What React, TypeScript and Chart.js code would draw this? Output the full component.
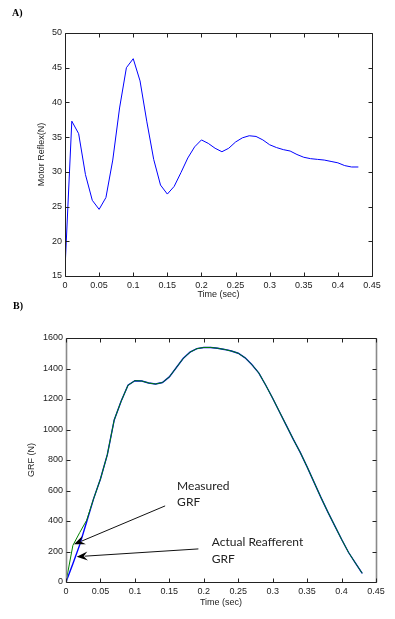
import React, { useEffect, useRef } from 'react';
import { Chart, registerables } from 'chart.js';

Chart.register(...registerables);

// ---------- Panel A data ----------
const timeA = [0, 0.01, 0.02, 0.03, 0.04, 0.05, 0.06, 0.07, 0.08, 0.09, 0.1, 0.11, 0.12, 0.13, 0.14, 0.15, 0.16, 0.17, 0.18, 0.19, 0.2, 0.21, 0.22, 0.23, 0.24, 0.25, 0.26, 0.27, 0.28, 0.29, 0.3, 0.31, 0.32, 0.33, 0.34, 0.35, 0.36, 0.37, 0.38, 0.39, 0.4, 0.41, 0.42, 0.43];
const motorReflex = [16.0, 37.3, 35.5, 29.6, 25.9, 24.6, 26.3, 31.7, 39.2, 45.0, 46.3, 43.1, 37.2, 31.8, 28.1, 26.8, 27.9, 29.9, 32.0, 33.6, 34.6, 34.1, 33.4, 32.9, 33.4, 34.3, 34.9, 35.2, 35.1, 34.6, 33.9, 33.5, 33.2, 33.0, 32.5, 32.1, 31.9, 31.8, 31.7, 31.5, 31.3, 30.9, 30.7, 30.7];
const yTicksA = [15, 20, 25, 30, 35, 40, 45, 50];

// ---------- Panel B data ----------
const timeB = [0, 0.01, 0.02, 0.03, 0.04, 0.05, 0.06, 0.07, 0.08, 0.09, 0.1, 0.11, 0.12, 0.13, 0.14, 0.15, 0.16, 0.17, 0.18, 0.19, 0.2, 0.21, 0.22, 0.23, 0.24, 0.25, 0.26, 0.27, 0.28, 0.29, 0.3, 0.31, 0.32, 0.33, 0.34, 0.35, 0.36, 0.37, 0.38, 0.39, 0.4, 0.41, 0.42, 0.43];
const reafferentGRF = [0, 120, 245, 395, 545, 675, 835, 1063, 1185, 1290, 1320, 1318, 1305, 1298, 1308, 1345, 1405, 1465, 1507, 1530, 1538, 1538, 1533, 1525, 1515, 1500, 1470, 1425, 1370, 1290, 1205, 1115, 1025, 935, 850, 755, 655, 555, 460, 370, 280, 195, 125, 57];
const measuredGRF = [0, 240, 325, 405, 545, 675, 835, 1063, 1185, 1290, 1320, 1318, 1305, 1298, 1308, 1345, 1405, 1465, 1507, 1530, 1538, 1538, 1533, 1525, 1515, 1500, 1470, 1425, 1370, 1290, 1205, 1115, 1025, 935, 850, 755, 655, 555, 460, 370, 280, 195, 125, 57];
const yTicksB = [0, 200, 400, 600, 800, 1000, 1200, 1400, 1600];

const xTicks = [0, 0.05, 0.1, 0.15, 0.2, 0.25, 0.3, 0.35, 0.4, 0.45];

// annotations in data units: label lines, text anchor (t, v), tail (t, v), tip (t, v)
const annotationLabels = [['Measured', 'GRF'], ['Actual Reafferent', 'GRF']];
const annotationText = [[0.1613, 604], [0.2117, 236]];
const annotationTail = [[0.1439, 499], [0.1922, 217]];
const annotationTip = [[0.0116, 247], [0.0155, 166]];

const TICK_FONT = { family: '"Liberation Sans", Arial, sans-serif', size: 9 };
const TEXT_COLOR = '#222';

type PanelOpts = {
  label: string;
  labelPos: [number, number];
  yTitle: string;
  yTitleX: number;
  xTitleY: number;
  annotations: boolean;
  sideColor: string;
  sideWidth: number;
};

function framePlugin(o: PanelOpts) {
  return {
    id: 'frame',
    afterDraw(chart: any) {
      const { ctx, chartArea: a, scales } = chart;
      const xs = scales.x;
      const ys = scales.y;
      ctx.save();
      ctx.lineWidth = 1;
      const L = Math.round(a.left) + 0.5;
      const R = Math.round(a.right) + 0.5;
      const T = Math.round(a.top) + 0.5;
      const B = Math.round(a.bottom) + 0.5;
      // top & bottom edges
      ctx.strokeStyle = '#222';
      ctx.beginPath();
      ctx.moveTo(L, T);
      ctx.lineTo(R, T);
      ctx.moveTo(L, B);
      ctx.lineTo(R, B);
      ctx.stroke();
      // side edges
      ctx.strokeStyle = o.sideColor;
      ctx.lineWidth = o.sideWidth;
      ctx.beginPath();
      ctx.moveTo(L, T);
      ctx.lineTo(L, B);
      ctx.moveTo(R, T);
      ctx.lineTo(R, B);
      ctx.stroke();
      // inward ticks
      ctx.strokeStyle = '#222';
      ctx.lineWidth = 1;
      ctx.beginPath();
      xs.ticks.forEach((t: any) => {
        const px = Math.round(xs.getPixelForValue(t.value)) + 0.5;
        ctx.moveTo(px, B);
        ctx.lineTo(px, B - 4);
        ctx.moveTo(px, T);
        ctx.lineTo(px, T + 4);
      });
      ys.ticks.forEach((t: any) => {
        const py = Math.round(ys.getPixelForValue(t.value)) + 0.5;
        ctx.moveTo(L, py);
        ctx.lineTo(L + 4, py);
        ctx.moveTo(R, py);
        ctx.lineTo(R - 4, py);
      });
      ctx.stroke();

      // axis titles
      ctx.fillStyle = TEXT_COLOR;
      ctx.font = `${TICK_FONT.size}px ${TICK_FONT.family}`;
      ctx.textAlign = 'center';
      ctx.textBaseline = 'middle';
      ctx.fillText('Time (sec)', (a.left + a.right) / 2, o.xTitleY);
      ctx.save();
      ctx.translate(o.yTitleX, (a.top + a.bottom) / 2);
      ctx.rotate(-Math.PI / 2);
      ctx.fillText(o.yTitle, 0, 0);
      ctx.restore();

      // panel label
      ctx.fillStyle = '#000';
      ctx.font = 'bold 10px "Liberation Serif", "Times New Roman", serif';
      ctx.textAlign = 'left';
      ctx.textBaseline = 'alphabetic';
      ctx.fillText(o.label, o.labelPos[0], o.labelPos[1]);

      if (o.annotations) {
        annotationLabels.forEach((lines, i) => {
          const tx = xs.getPixelForValue(annotationText[i][0]);
          const ty = ys.getPixelForValue(annotationText[i][1]);
          ctx.fillStyle = TEXT_COLOR;
          ctx.font = '12px Lato, "Open Sans", sans-serif';
          ctx.textAlign = 'left';
          ctx.textBaseline = 'alphabetic';
          lines.forEach((ln, j) => ctx.fillText(ln, tx, ty + j * 16.5));

          const x1 = xs.getPixelForValue(annotationTail[i][0]);
          const y1 = ys.getPixelForValue(annotationTail[i][1]);
          const x2 = xs.getPixelForValue(annotationTip[i][0]);
          const y2 = ys.getPixelForValue(annotationTip[i][1]);
          const ang = Math.atan2(y2 - y1, x2 - x1);
          const len = 11;
          const half = 4.5;
          const bx = x2 - len * Math.cos(ang);
          const by = y2 - len * Math.sin(ang);
          ctx.strokeStyle = '#111';
          ctx.lineWidth = 1;
          ctx.beginPath();
          ctx.moveTo(x1, y1);
          ctx.lineTo(bx + 3 * Math.cos(ang), by + 3 * Math.sin(ang));
          ctx.stroke();
          ctx.fillStyle = '#000';
          ctx.beginPath();
          ctx.moveTo(x2, y2);
          ctx.lineTo(bx - half * Math.sin(ang), by + half * Math.cos(ang));
          ctx.lineTo(x2 - (len - 4) * Math.cos(ang), y2 - (len - 4) * Math.sin(ang));
          ctx.lineTo(bx + half * Math.sin(ang), by - half * Math.cos(ang));
          ctx.closePath();
          ctx.fill();
        });
      }
      ctx.restore();
    },
  };
}

function makeOptions(yMin: number, yMax: number, yTickValues: number[], padding: any, yw: number, xh: number) {
  return {
    responsive: false,
    animation: false as const,
    maintainAspectRatio: false,
    layout: { padding },
    plugins: { legend: { display: false }, tooltip: { enabled: false } },
    elements: { point: { radius: 0 }, line: { tension: 0 } },
    scales: {
      x: {
        type: 'linear' as const,
        min: 0,
        max: 0.45,
        grid: { display: false, drawTicks: false },
        border: { display: false },
        afterBuildTicks: (s: any) => {
          s.ticks = xTicks.map((v) => ({ value: v }));
        },
        afterFit: (s: any) => {
          s.height = xh;
        },
        ticks: {
          padding: 4,
          color: TEXT_COLOR,
          font: TICK_FONT,
          maxRotation: 0,
          autoSkip: false,
          callback: (v: any) => String(Math.round(Number(v) * 100) / 100),
        },
      },
      y: {
        type: 'linear' as const,
        min: yMin,
        max: yMax,
        grid: { display: false, drawTicks: false },
        border: { display: false },
        afterBuildTicks: (s: any) => {
          s.ticks = yTickValues.map((v) => ({ value: v }));
        },
        afterFit: (s: any) => {
          s.width = yw;
        },
        ticks: {
          padding: 3,
          color: TEXT_COLOR,
          font: TICK_FONT,
          autoSkip: false,
          callback: (v: any) => String(v),
        },
      },
    },
  };
}

function Panel(props: {
  top: number;
  height: number;
  datasets: any[];
  yMin: number;
  yMax: number;
  yTickValues: number[];
  padding: any;
  yw: number;
  xh: number;
  frame: PanelOpts;
}) {
  const ref = useRef<HTMLCanvasElement>(null);
  useEffect(() => {
    if (!ref.current) return;
    const opts: any = makeOptions(props.yMin, props.yMax, props.yTickValues, props.padding, props.yw, props.xh);
    const chart = new Chart(ref.current, {
      type: 'line',
      data: { datasets: props.datasets },
      options: opts,
      plugins: [framePlugin(props.frame)],
    });
    return () => chart.destroy();
  }, []);
  return (
    <canvas
      ref={ref}
      width={395}
      height={props.height}
      style={{ position: 'absolute', left: 0, top: props.top, width: 395, height: props.height }}
    />
  );
}

export default function App() {
  const dsA = [
    {
      data: timeA.map((t, i) => ({ x: t, y: motorReflex[i] })),
      borderColor: '#0000ff',
      borderWidth: 1,
      pointRadius: 0,
      fill: false,
    },
  ];
  const dsB = [
    {
      data: timeB.map((t, i) => ({ x: t, y: measuredGRF[i] })),
      borderColor: '#008000',
      borderWidth: 1,
      pointRadius: 0,
      fill: false,
    },
    {
      data: timeB.map((t, i) => ({ x: t, y: reafferentGRF[i] })),
      borderColor: '#0000ff',
      borderWidth: 1.4,
      pointRadius: 0,
      fill: false,
    },
  ];
  return (
    <div style={{ position: 'absolute', left: 0, top: 0, width: 395, height: 619, background: '#fff' }}>
      <Panel
        top={0}
        height={300}
        datasets={dsA}
        yMin={15}
        yMax={50}
        yTickValues={yTicksA}
        padding={{ left: 0, top: 33, right: 23, bottom: 4 }}
        yw={65}
        xh={20}
        frame={{ label: 'A)', labelPos: [12, 16], yTitle: 'Motor Reflex(N)', yTitleX: 42, xTitleY: 295, annotations: false, sideColor: '#222', sideWidth: 1 }}
      />
      <Panel
        top={296}
        height={323}
        datasets={dsB}
        yMin={0}
        yMax={1600}
        yTickValues={yTicksB}
        padding={{ left: 0, top: 42, right: 19, bottom: 17 }}
        yw={66}
        xh={20}
        frame={{ label: 'B)', labelPos: [13, 12.5], yTitle: 'GRF (N)', yTitleX: 32, xTitleY: 307, annotations: true, sideColor: '#8a8a8a', sideWidth: 1.6 }}
      />
    </div>
  );
}
